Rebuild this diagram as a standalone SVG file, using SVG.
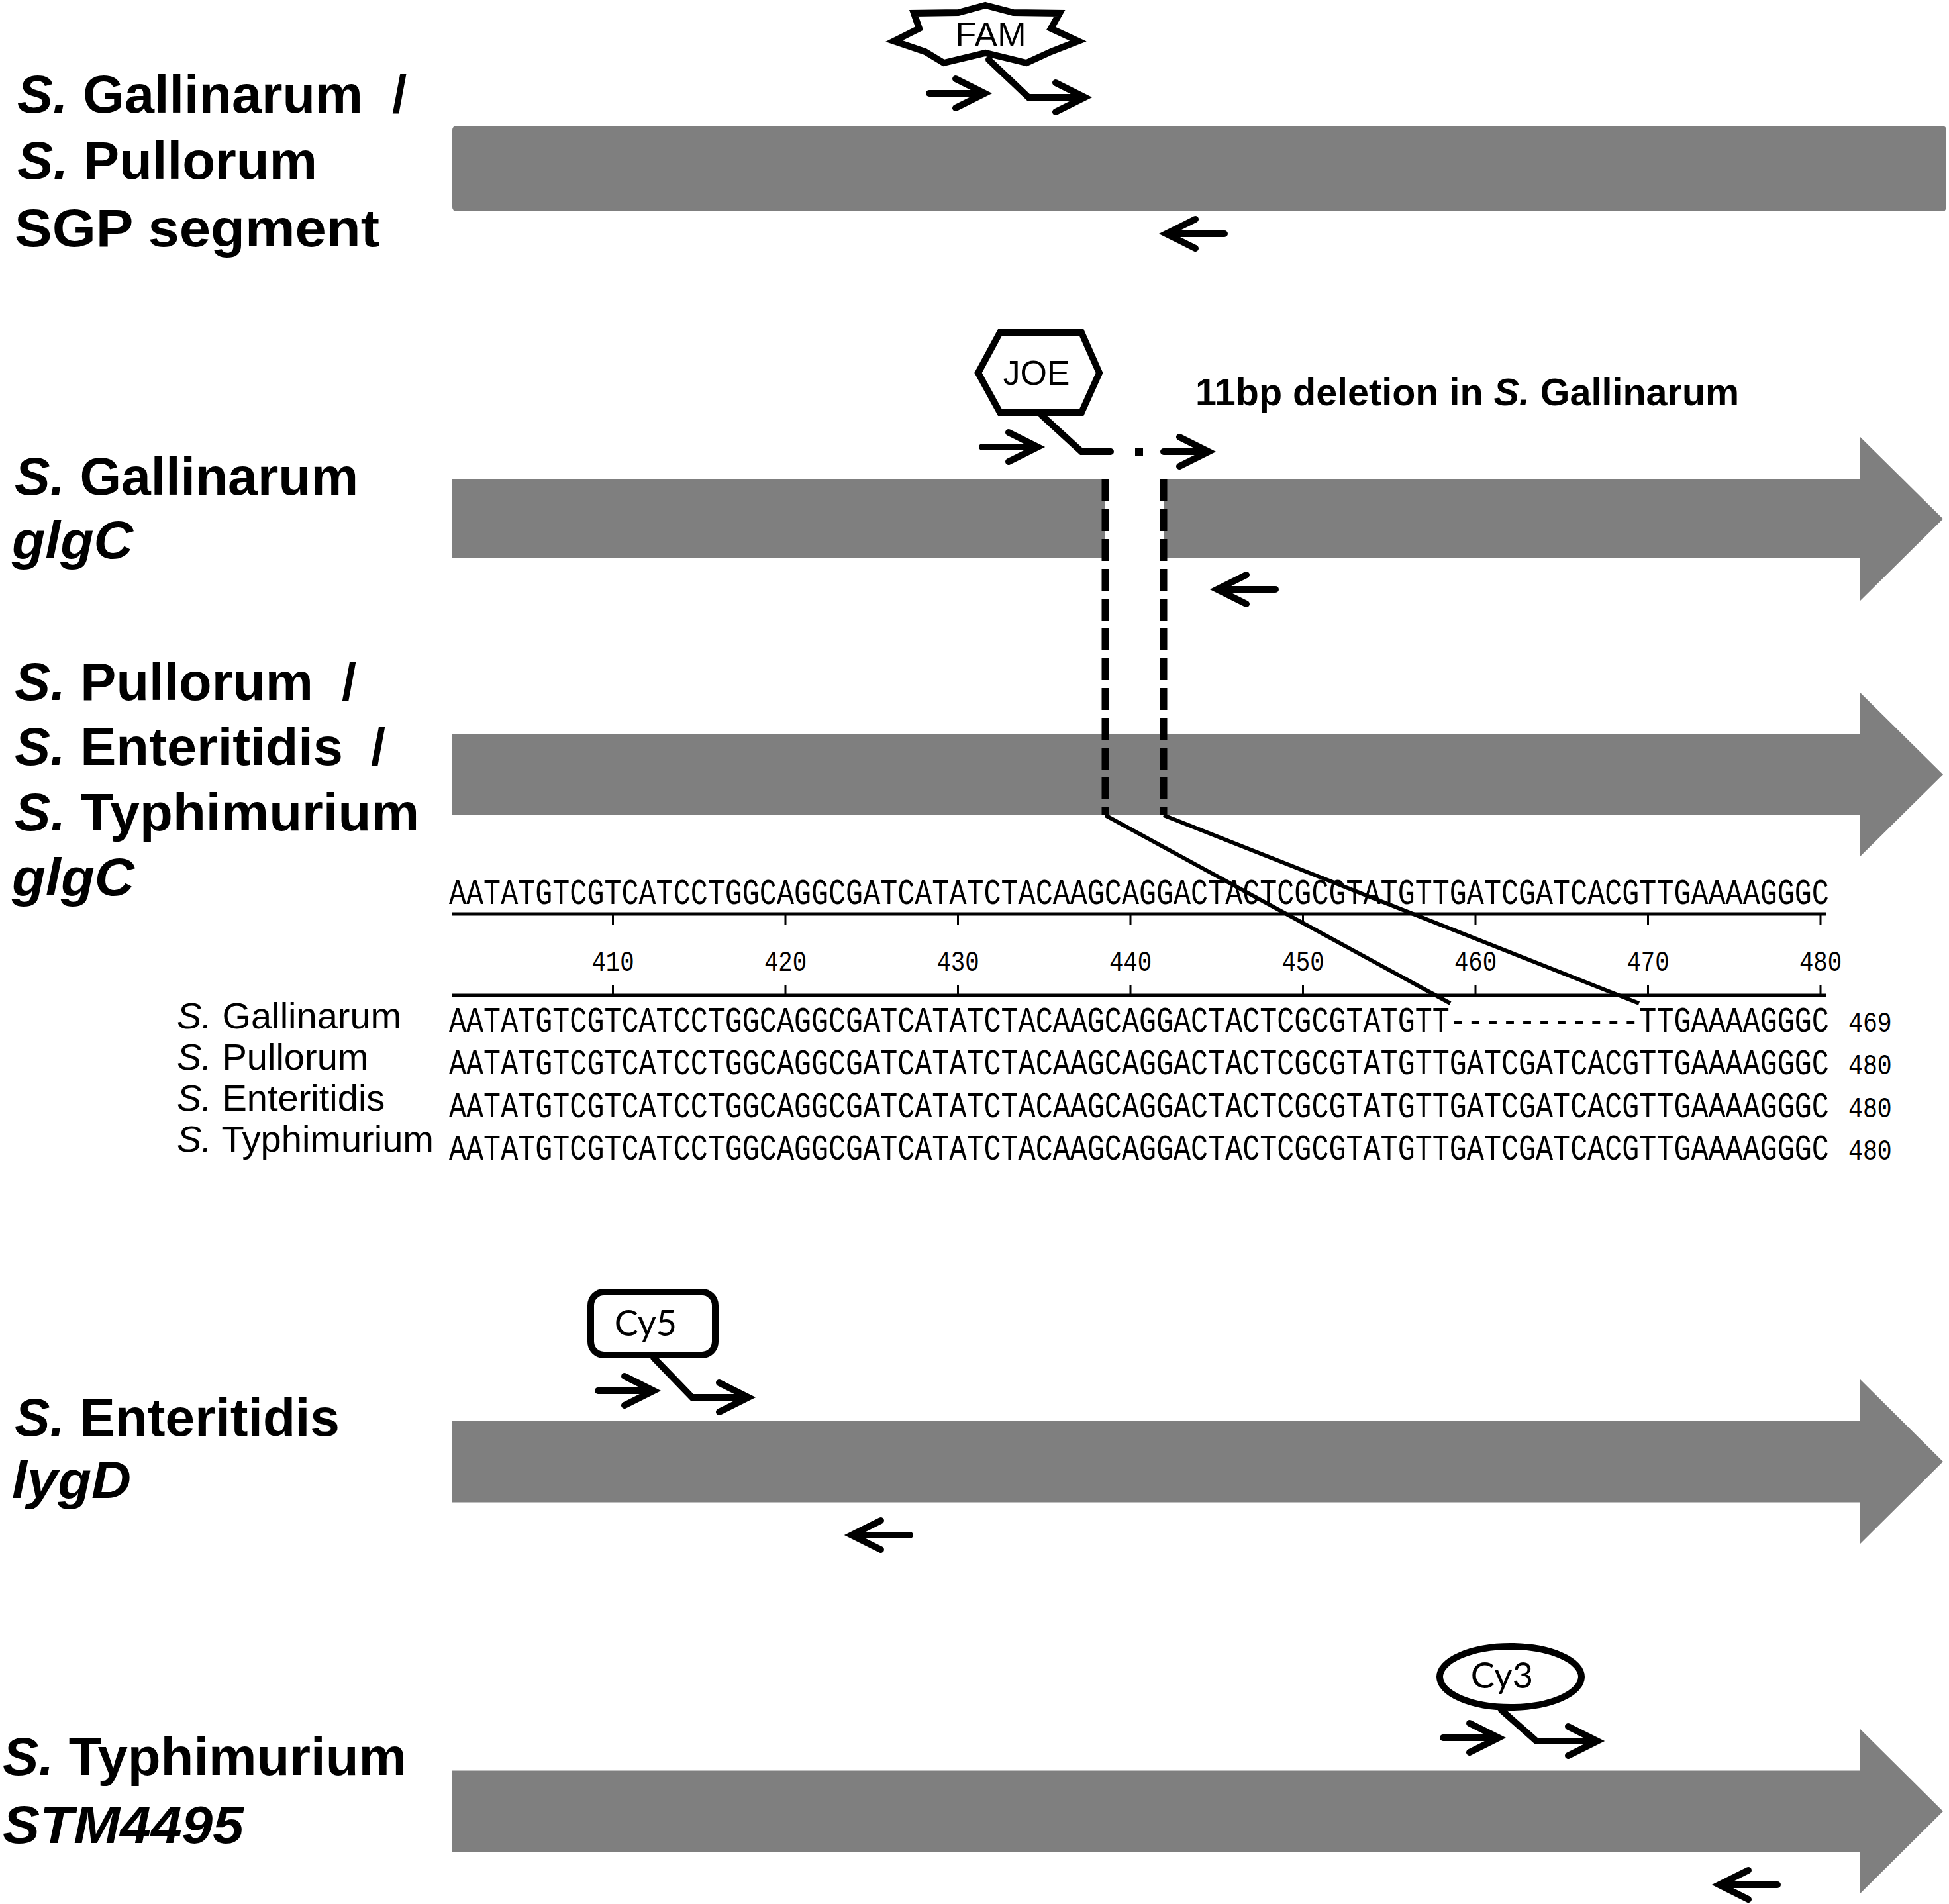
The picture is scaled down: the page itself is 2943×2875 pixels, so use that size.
<svg xmlns="http://www.w3.org/2000/svg" xmlns:xlink="http://www.w3.org/1999/xlink" width="2943" height="2875" viewBox="0 0 2943 2875">
<style>
.bar{fill:#7f7f7f;}
.lab{font-family:"Liberation Sans",Arial,sans-serif;font-weight:bold;font-size:80px;fill:#000;}
.it{font-style:italic;}
.ln{fill:none;stroke:#000;stroke-width:10;stroke-linejoin:miter;stroke-linecap:round;}
.tag{fill:#fff;stroke:#000;stroke-width:10;stroke-linejoin:miter;}
.tagtxt{font-family:"Liberation Sans",Arial,sans-serif;font-size:52px;fill:#000;text-anchor:middle;}
.cytxt{font-family:Lato,"Liberation Sans",sans-serif;font-size:54px;fill:#000;text-anchor:middle;}
.seq{font-family:"Liberation Mono","Courier New",monospace;font-size:54px;fill:#000;}
.num{font-family:"Liberation Mono","Courier New",monospace;font-size:44px;fill:#000;}
.alab{font-family:"Liberation Sans",Arial,sans-serif;font-size:56px;fill:#000;}
.rul{fill:none;stroke:#000;stroke-width:5;}
.tick{fill:none;stroke:#000;stroke-width:3;}
.dash{fill:none;stroke:#000;stroke-width:11;stroke-dasharray:33 12;}
.conn{fill:none;stroke:#000;stroke-width:6;}
</style>
<defs>
<path id="fwd" class="ln" d="M-84,0 H0 M-44,-22 L0,0 L-44,22"/>
<path id="rev" class="ln" d="M88,0 H0 M44,-22 L0,0 L44,22"/>
</defs>

<!-- Row 1: SGP segment -->
<g id="label-sgp">
<text class="lab" x="26" y="170" textLength="522" lengthAdjust="spacingAndGlyphs"><tspan class="it">S.</tspan> Gallinarum</text>
<text class="lab" x="592" y="170">/</text>
<text class="lab" x="26" y="270" textLength="453" lengthAdjust="spacingAndGlyphs"><tspan class="it">S.</tspan> Pullorum</text>
<text class="lab" x="22" y="372" textLength="551" lengthAdjust="spacingAndGlyphs">SGP segment</text>
</g>
<g id="bar-sgp"><rect class="bar" x="683" y="190" width="2256" height="129" rx="6"/></g>
<g id="probe-fam">
<polygon class="tag" points="1488,8 1530,19 1600,20 1587,43 1628,62 1587,78 1550,95 1488,80 1425,95 1397,78 1350,62 1388,43 1380,20 1447,19"/>
<text class="tagtxt" x="1496" y="70">FAM</text>
<path class="ln" d="M1493,90 L1553,147 H1638 M1594,125 L1638,147 L1594,169"/>
</g>
<g id="primers-sgp">
<use xlink:href="#fwd" x="1487" y="141"/>
<use xlink:href="#rev" x="1761" y="353"/>
</g>

<!-- Row 2: S. Gallinarum glgC -->
<g id="label-sg-glgc">
<text class="lab" x="22" y="747" textLength="519" lengthAdjust="spacingAndGlyphs"><tspan class="it">S.</tspan> Gallinarum</text>
<text class="lab it" x="18" y="843" textLength="183" lengthAdjust="spacingAndGlyphs">glgC</text>
</g>
<g id="bar-sg-glgc">
<rect class="bar" x="683" y="724" width="985" height="119"/>
<path class="bar" d="M1758,724 H2808 V659 L2934,783.5 L2808,908 V843 H1758 Z"/>
</g>
<g id="probe-joe">
<polygon class="tag" points="1477,563 1510,502 1633,502 1660,563 1633,623 1510,623"/>
<text class="tagtxt" x="1565" y="581">JOE</text>
<path class="ln" d="M1573,627 L1633,682 H1677"/>
<rect x="1714" y="676" width="12" height="12" fill="#000"/>
<path class="ln" d="M1757,682 H1825 M1781,660 L1825,682 L1781,704"/>
</g>
<g id="primers-sg-glgc">
<use xlink:href="#fwd" x="1567" y="675"/>
<use xlink:href="#rev" x="1838" y="890"/>
</g>
<g id="note-deletion">
<text class="lab" style="font-size:57.5px" x="1805" y="612">11bp deletion in <tspan class="it">S.</tspan> Gallinarum</text>
</g>

<!-- Row 3: S. Pullorum / Enteritidis / Typhimurium glgC -->
<g id="label-glgc">
<text class="lab" x="22" y="1057" textLength="451" lengthAdjust="spacingAndGlyphs"><tspan class="it">S.</tspan> Pullorum</text>
<text class="lab" x="516" y="1057">/</text>
<text class="lab" x="22" y="1155" textLength="496" lengthAdjust="spacingAndGlyphs"><tspan class="it">S.</tspan> Enteritidis</text>
<text class="lab" x="560" y="1155">/</text>
<text class="lab" x="22" y="1254" textLength="611" lengthAdjust="spacingAndGlyphs"><tspan class="it">S.</tspan> Typhimurium</text>
<text class="lab it" x="18" y="1352" textLength="185" lengthAdjust="spacingAndGlyphs">glgC</text>
</g>
<g id="bar-glgc">
<path class="bar" d="M683,1108 H2808 V1045 L2934,1169.5 L2808,1294 V1231 H683 Z"/>
</g>

<!-- Alignment -->
<g id="alignment">
<text class="seq" transform="translate(678,1365) scale(0.804,1)">AATATGTCGTCATCCTGGCAGGCGATCATATCTACAAGCAGGACTACTCGCGTATGTTGATCGATCACGTTGAAAAGGGC</text>
<line class="rul" x1="683" y1="1380" x2="2757" y2="1380"/>
<line class="rul" x1="683" y1="1503" x2="2757" y2="1503"/>
<g class="tick">
<path d="M925.5,1380 V1396 M1186,1380 V1396 M1446.5,1380 V1396 M1707,1380 V1396 M1967.5,1380 V1396 M2228,1380 V1396 M2488.5,1380 V1396 M2749,1380 V1396"/>
<path d="M925.5,1503 V1487 M1186,1503 V1487 M1446.5,1503 V1487 M1707,1503 V1487 M1967.5,1503 V1487 M2228,1503 V1487 M2488.5,1503 V1487 M2749,1503 V1487"/>
</g>
<g class="num" text-anchor="middle">
<text transform="translate(925.5,1466) scale(0.81,1)">410</text>
<text transform="translate(1186,1466) scale(0.81,1)">420</text>
<text transform="translate(1446.5,1466) scale(0.81,1)">430</text>
<text transform="translate(1707,1466) scale(0.81,1)">440</text>
<text transform="translate(1967.5,1466) scale(0.81,1)">450</text>
<text transform="translate(2228,1466) scale(0.81,1)">460</text>
<text transform="translate(2488.5,1466) scale(0.81,1)">470</text>
<text transform="translate(2749,1466) scale(0.81,1)">480</text>
</g>
<text class="alab" x="267" y="1553"><tspan class="it">S.</tspan> Gallinarum</text>
<text class="alab" x="267" y="1615"><tspan class="it">S.</tspan> Pullorum</text>
<text class="alab" x="267" y="1677"><tspan class="it">S.</tspan> Enteritidis</text>
<text class="alab" x="267" y="1739"><tspan class="it">S.</tspan> Typhimurium</text>
<text class="seq" transform="translate(678,1558) scale(0.804,1)">AATATGTCGTCATCCTGGCAGGCGATCATATCTACAAGCAGGACTACTCGCGTATGTT-----------TTGAAAAGGGC</text>
<text class="seq" transform="translate(678,1622) scale(0.804,1)">AATATGTCGTCATCCTGGCAGGCGATCATATCTACAAGCAGGACTACTCGCGTATGTTGATCGATCACGTTGAAAAGGGC</text>
<text class="seq" transform="translate(678,1687) scale(0.804,1)">AATATGTCGTCATCCTGGCAGGCGATCATATCTACAAGCAGGACTACTCGCGTATGTTGATCGATCACGTTGAAAAGGGC</text>
<text class="seq" transform="translate(678,1751) scale(0.804,1)">AATATGTCGTCATCCTGGCAGGCGATCATATCTACAAGCAGGACTACTCGCGTATGTTGATCGATCACGTTGAAAAGGGC</text>
<g class="num">
<text transform="translate(2791,1558) scale(0.83,1)">469</text>
<text transform="translate(2791,1622) scale(0.83,1)">480</text>
<text transform="translate(2791,1687) scale(0.83,1)">480</text>
<text transform="translate(2791,1751) scale(0.83,1)">480</text>
</g>
</g>

<!-- Connectors: deletion markers -->
<g id="connectors">
<line class="dash" x1="1669" y1="724" x2="1669" y2="1231"/>
<line class="dash" x1="1757" y1="724" x2="1757" y2="1231"/>
<line class="conn" x1="1669" y1="1231" x2="2190" y2="1515"/>
<line class="conn" x1="1757" y1="1231" x2="2475" y2="1515"/>
</g>

<!-- Row 4: S. Enteritidis lygD -->
<g id="label-lygd">
<text class="lab" x="22" y="2168" textLength="491" lengthAdjust="spacingAndGlyphs"><tspan class="it">S.</tspan> Enteritidis</text>
<text class="lab it" x="18" y="2262" textLength="180" lengthAdjust="spacingAndGlyphs">lygD</text>
</g>
<g id="bar-lygd">
<path class="bar" d="M683,2145.5 H2808 V2082 L2934,2207 L2808,2332 V2268.5 H683 Z"/>
</g>
<g id="probe-cy5">
<rect class="tag" x="892" y="1951" width="188" height="95" rx="20"/>
<text class="cytxt" x="975" y="2017">Cy5</text>
<path class="ln" d="M987,2050 L1045,2110 H1130 M1086,2088 L1130,2110 L1086,2132"/>
</g>
<g id="primers-lygd">
<use xlink:href="#fwd" x="987" y="2100"/>
<use xlink:href="#rev" x="1286" y="2318"/>
</g>

<!-- Row 5: S. Typhimurium STM4495 -->
<g id="label-stm">
<text class="lab" x="4" y="2680" textLength="610" lengthAdjust="spacingAndGlyphs"><tspan class="it">S.</tspan> Typhimurium</text>
<text class="lab it" x="4" y="2783" textLength="364" lengthAdjust="spacingAndGlyphs">STM4495</text>
</g>
<g id="bar-stm">
<path class="bar" d="M683,2673.5 H2808 V2610 L2934,2735 L2808,2860 V2796.5 H683 Z"/>
</g>
<g id="probe-cy3">
<ellipse class="tag" cx="2281" cy="2532" rx="107" ry="46"/>
<text class="cytxt" x="2268" y="2549">Cy3</text>
<path class="ln" d="M2267,2582 L2320,2629 H2412 M2368,2607 L2412,2629 L2368,2651"/>
</g>
<g id="primers-stm">
<use xlink:href="#fwd" x="2263" y="2624"/>
<use xlink:href="#rev" x="2596" y="2846"/>
</g>
</svg>
